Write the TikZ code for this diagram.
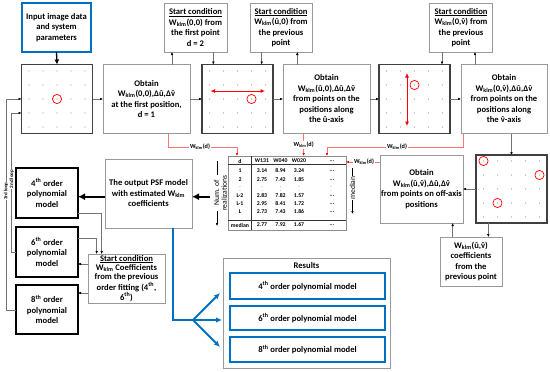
\documentclass[tikz,border=0pt]{standalone}
\usepackage{fontspec}
\setmainfont{Carlito}
\usetikzlibrary{arrows.meta,calc}
\definecolor{oblue}{RGB}{0,112,192}
\newcommand\Wk{W\textsubscript{klm}}
\newcommand\uh{\^{u}}
\newcommand\vh{\ooalign{v\cr\hidewidth\char"02C6\hidewidth\cr}}
\newcommand\tel{...}
\newcommand\tvd{{\fontsize{3.6}{3.6}\selectfont$\vdots$}}
\newcommand\griddots[1]{\foreach \gi in {-28,-14,0,14,28}{\foreach \gj in {-28,-14,0,14,28}{\fill[black!40] ($(#1)+(\gi,\gj)$) circle (0.6pt);}}}
\begin{document}
\begin{tikzpicture}[x=1pt,y=-1pt,
  txt/.style={font=\fontsize{8.6}{10.5}\selectfont\bfseries, align=center, inner sep=0pt, outer sep=0pt},
  obox/.style={txt, draw=black!40, line width=0.6pt},
  gbox/.style={draw=black!75, line width=1.2pt, inner sep=0pt, outer sep=0pt, minimum width=71pt, minimum height=69pt},
  pbox/.style={txt, draw=black, line width=1.2pt, minimum width=62pt},
  bbox/.style={txt, draw=oblue, line width=1.4pt},
  arr/.style={draw=black!55, line width=0.5pt, -{Latex[length=3pt,width=2.6pt,color=black]}},
  rarr/.style={draw=red!55, line width=0.6pt, -{Latex[length=3pt,width=2.6pt,color=red]}},
  lab/.style={font=\fontsize{6.2}{6.5}\selectfont\bfseries, fill=white, inner sep=0.8pt},
  tcell/.style={font=\fontsize{5.8}{6}\selectfont\bfseries, inner sep=0pt},
  bigarr/.style={line width=2.2pt, -{Latex[length=7pt,width=7pt]}},
  blarr/.style={draw=oblue, line width=2pt, -{Latex[length=6pt,width=5.5pt]}},
  redc/.style={draw=red, line width=0.7pt},
  redarr/.style={red, line width=0.8pt, {Latex[length=4.5pt,width=4pt]}-{Latex[length=4.5pt,width=4pt]}},
  loopl/.style={font=\fontsize{5}{5}\selectfont\bfseries, fill=white, inner sep=0.5pt, rotate=90}]
\useasboundingbox (0,0) rectangle (550,372);

% ---------- top row ----------
\node[txt, draw=oblue, line width=1.6pt, minimum width=69pt, minimum height=49pt] (input) at (56.5,27.5) {Input image data\\and system\\parameters};
\node[gbox] (grid1) at (57,99) {};
\node[obox, minimum width=87pt, minimum height=69pt] (obt1) at (146.5,99) {Obtain\\\Wk(0,0),Δ\uh,Δ\vh\\at the first position,\\d = 1};
\node[obox, minimum width=63pt, minimum height=49pt] (sc1) at (195.5,27.5) {\underline{Start condition}\\\Wk(0,0) from\\the first point\\d = 2};
\node[gbox] (grid2) at (237.5,99) {};
\node[obox, minimum width=62pt, minimum height=49pt] (sc2) at (281,27.5) {\underline{Start condition}\\\Wk(\uh,0) from\\the previous\\point};
\node[obox, minimum width=87pt, minimum height=69pt] (obt2) at (326.5,99) {Obtain\\\Wk(\uh,0),Δ\uh,Δ\vh\\from points on the\\positions along\\the \uh-axis};
\node[gbox] (grid3) at (414.5,99) {};
\node[obox, minimum width=63pt, minimum height=49pt] (sc3) at (461,27.5) {\underline{Start condition}\\\Wk(0,\vh) from\\the previous\\point};
\node[obox, minimum width=86pt, minimum height=69pt] (obt3) at (504,99) {Obtain\\\Wk(0,\vh),Δ\uh,Δ\vh\\from points on the\\positions along\\the \vh-axis};

% ---------- right column ----------
\node[gbox, minimum height=68pt] (grid4) at (511.5,189) {};
\node[obox, minimum width=83pt, minimum height=68pt] (obt4) at (421.5,189) {Obtain\\\Wk(\uh,\vh),Δ\uh,Δ\vh\\from points on off-axis\\positions};
\node[obox, minimum width=62pt, minimum height=49pt] (wbox) at (471,261.5) {\Wk(\uh,\vh)\\coefficients\\from the\\previous point};

% grid contents
\griddots{grid1}
\griddots{grid2}
\griddots{grid3}
\griddots{grid4}
\draw[redc] (grid1) circle (4.6pt);
\draw[redc] ($(grid2)+(14,0)$) circle (4.6pt);
\draw[redarr] ($(grid2)+(-27,-8)$) -- ($(grid2)+(27.5,-8)$);
\draw[redc] ($(grid3)+(0,-14)$) circle (4.6pt);
\draw[redarr] ($(grid3)+(-7.5,-26)$) -- ($(grid3)+(-7.5,27)$);
\draw[redc] ($(grid4)+(-28,-28)$) circle (4.6pt);
\draw[redc] ($(grid4)+(28,-14)$) circle (4.6pt);
\draw[redc] ($(grid4)+(-14,14)$) circle (4.6pt);

% ---------- table ----------
\node[draw=black!45, line width=0.6pt, minimum width=118pt, minimum height=74pt, inner sep=0pt, outer sep=0pt] (tbl) at (287,193) {};
\draw[black!80, line width=0.6pt] ($(tbl.north west)+(0,8)$) -- ($(tbl.north east)+(0,8)$);
\draw[black!80, line width=1pt] ($(tbl.south west)+(0,-9.3)$) -- ($(tbl.south east)+(0,-9.3)$);
\draw[black!80, line width=0.6pt] ($(tbl.north west)+(23.7,0)$) -- ($(tbl.south west)+(23.7,0)$);
\foreach \lab/\a/\b/\c/\yy in {d/W131/W040/W020/161, 1/3.14/8.94/3.24/170.7, 2/2.75/7.42/1.85/180, L-2/2.83/7.82/1.57/196, L-1/2.95/8.41/1.72/204, L/2.73/7.43/1.86/212, median/2.77/7.92/1.67/225}{
  \node[tcell] at (240,\yy) {\lab};
  \node[tcell] at (262,\yy) {\a};
  \node[tcell] at (280.5,\yy) {\b};
  \node[tcell] at (299,\yy) {\c};
  \node[tcell] at (332,\yy) {\tel};
}
\foreach \xx in {240,262,280.5,299,331}{\node[tcell] at (\xx,188) {\tvd};}

% side labels of table
\coordinate (numtop) at (217,161);
\coordinate (numbot) at (217,226);
\draw[black, line width=0.5pt, -{Latex[length=3pt,width=2.6pt]}] (numtop) -- (numbot);
\node[font=\fontsize{7.6}{7.8}\selectfont, fill=white, inner sep=0.5pt, rotate=90, align=center] (numlab) at (220.5,193) {Num. of\\realizations};
\coordinate (medtop) at (352.5,168);
\coordinate (medbot) at (352.5,214);
\draw[black, line width=0.5pt, -{Latex[length=3pt,width=2.6pt]}] (medtop) -- (medbot);
\node[font=\fontsize{7.6}{7.8}\selectfont, fill=white, inner sep=0.8pt, rotate=90] (medlab) at (352.5,188) {median};

% ---------- left part ----------
\node[obox, minimum width=87pt, minimum height=69pt] (psf) at (148.5,193.5) {The output PSF model\\with estimated \Wk\\coefficients};
\node[pbox, minimum height=50pt] (p4) at (47,193) {4\textsuperscript{th} order\\polynomial\\model};
\node[pbox, minimum height=50pt] (p6) at (47,252) {6\textsuperscript{th} order\\polynomial\\model};
\node[pbox, minimum height=49pt] (p8) at (47,309.5) {8\textsuperscript{th} order\\polynomial\\model};
\node[obox, font=\fontsize{8.6}{9.2}\selectfont\bfseries, minimum width=77pt, minimum height=49pt] (sc4) at (126.5,278.5) {\underline{Start condition}\\\Wk{} Coefficients\\from the previous\\order fitting (4\textsuperscript{th},\\6\textsuperscript{th})};

% ---------- results ----------
\node[draw=black!40, line width=0.6pt, minimum width=167pt, minimum height=110pt, inner sep=0pt, outer sep=0pt] (res) at (306.5,313) {};
\node[txt] (restitle) at (306.5,265.5) {Results};
\node[bbox, minimum width=155pt, minimum height=26pt] (r4) at (307.5,286) {4\textsuperscript{th} order polynomial model};
\node[bbox, minimum width=155pt, minimum height=24pt] (r6) at (307.5,318) {6\textsuperscript{th} order polynomial model};
\node[bbox, minimum width=155pt, minimum height=25pt] (r8) at (307.5,349.5) {8\textsuperscript{th} order polynomial model};

% ---------- connectors: top row ----------
\draw[line width=1.3pt, -{Latex[length=5pt,width=5pt]}] (input.south) -- (grid1.north);
\draw[arr] (grid1.east) -- (obt1.west);
\draw[arr] (obt1.east) -- (grid2.west);
\draw[arr] (grid2.east) -- (obt2.west);
\draw[arr] (obt2.east) -- (grid3.west);
\draw[arr] (grid3.east) -- (obt3.west);
\draw[arr] ([xshift=25.5pt]obt1.north) -- ([xshift=25.5pt]obt1.north |- sc1.south);
\draw[arr] ([xshift=17.8pt]sc1.south) -- ([xshift=17.8pt]sc1.south |- grid2.north);
\draw[arr] ([xshift=-19.3pt]sc2.south) -- ([xshift=-19.3pt]sc2.south |- grid2.north);
\draw[arr] ([xshift=-29.2pt]obt2.north) -- ([xshift=-29.2pt]obt2.north |- sc2.south);
\draw[arr] ([xshift=-19pt]sc3.south) -- ([xshift=-19pt]sc3.south |- grid3.north);
\draw[arr] ([xshift=-29pt]obt3.north) -- ([xshift=-29pt]obt3.north |- sc3.south);
\draw[arr] (grid4.north |- obt3.south) -- (grid4.north);
\draw[arr] (grid4.west) -- (obt4.east);
\draw[arr] ([xshift=17.3pt]wbox.north |- grid4.south) -- ([xshift=17.3pt]wbox.north);
\draw[arr] ([xshift=-18.3pt]wbox.north) -- ([xshift=-18.3pt]wbox.north |- obt4.south);

% ---------- red connectors ----------
\coordinate (r1) at (237,147);
\coordinate (r3) at (327,147);
\draw[rarr] ([xshift=21.5pt]obt1.south) |- (r1) -- (r1 |- tbl.north);
\node[lab] at (200,147) {\Wk(d)};
\draw[rarr] ([xshift=-22.8pt]obt2.south) -- ([xshift=-22.8pt]obt2.south |- tbl.north);
\node[lab] at (303.7,145) {\Wk(d)};
\draw[rarr] ([xshift=-41pt]obt3.south) |- (r3) -- (r3 |- tbl.north);
\node[lab] at (397,147) {\Wk(d)};
\draw[rarr] ([yshift=27pt]obt4.west) -- ([yshift=27pt]obt4.west -| tbl.east);
\node[lab] at (364,162) {\Wk(d)};

% ---------- left connectors ----------
\coordinate (numtail) at (210,196.7);
\draw[bigarr] (numtail) -- (numtail -| psf.east);
\draw[bigarr] ([yshift=-3.2pt]psf.west) -- ([yshift=-3.2pt]psf.west -| p4.east);
\draw[arr] ([yshift=-20pt]p4.east) -| ([xshift=-24.8pt]sc4.north);
\draw[arr] ([yshift=14pt]p6.east) -| ([xshift=-29.8pt]sc4.north);
\draw[arr] ([yshift=14.5pt]sc4.west) -- ([yshift=14.5pt]sc4.west -| p6.east);
\draw[arr] ([yshift=-14.5pt]sc4.west) -- ([yshift=-14.5pt]sc4.west -| p8.east);
\coordinate (l2) at (11.7,252);
\coordinate (l3) at (6,310);
\draw[arr] (p6.west) -- (l2) |- ([yshift=-14pt]grid1.west);
\draw[arr] ([yshift=-0.5pt]p8.west) -- (l3) |- (grid1.west);
\node[loopl] at (11.7,179) {2nd loop};
\node[loopl] at (6,191) {3rd loop};

% ---------- blue connectors ----------
\coordinate (b0) at (193,320);
\coordinate (b4) at (220,293);
\coordinate (b6) at (222,320);
\coordinate (b8) at (220,347);
\draw[draw=oblue, line width=2.4pt] ([xshift=24.5pt]psf.south) |- (b0);
\draw[blarr] (b0) -- (b4);
\draw[blarr] (b0) -- (b6);
\draw[blarr] (b0) -- (b8);
\end{tikzpicture}
\end{document}
